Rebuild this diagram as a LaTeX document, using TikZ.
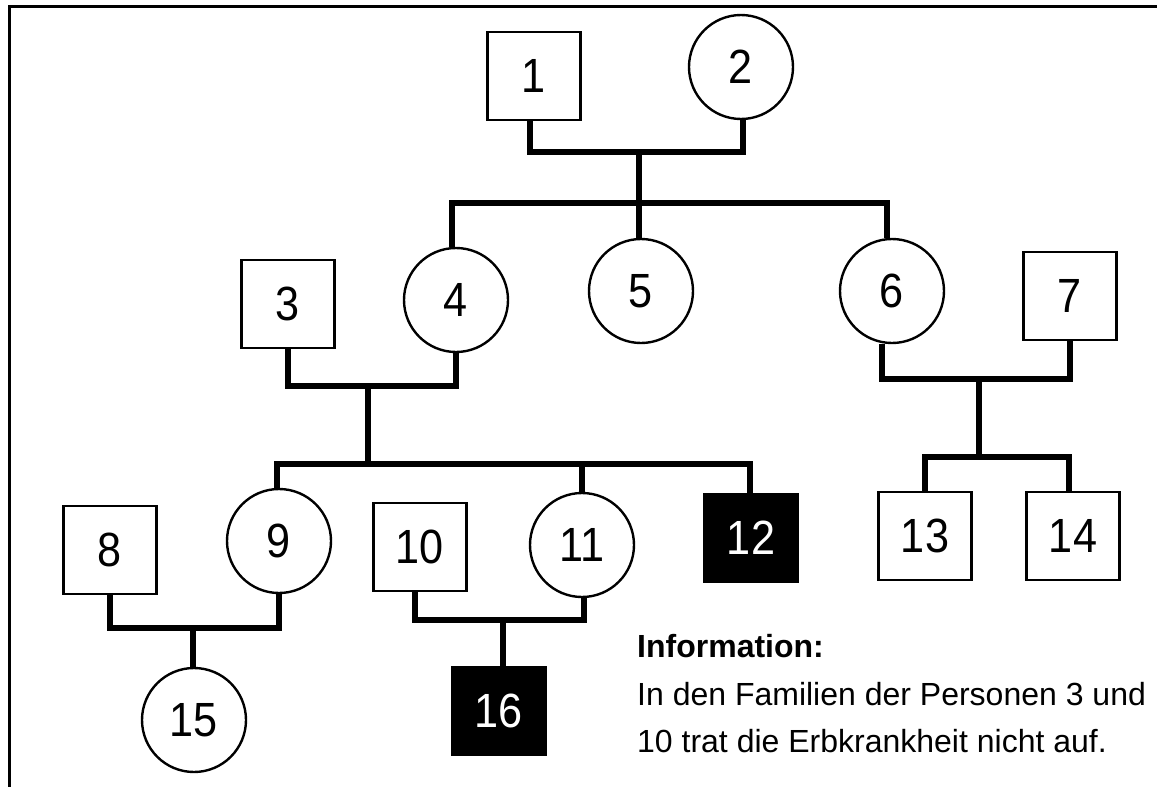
\documentclass[tikz,border=0pt]{standalone}
\usepackage{fontspec}
\setmainfont{Liberation Sans}
\newfontfamily\digitfont[FakeStretch=0.9]{Liberation Sans}
\begin{document}
\begin{tikzpicture}[x=1pt,y=-1pt,
  male/.style={draw, line width=2.4pt, rectangle, minimum width=93pt, minimum height=88pt, inner sep=0pt, fill=white,
    font=\digitfont\fontsize{48}{50}\selectfont},
  female/.style={draw, line width=2.4pt, circle, minimum size=104pt, inner sep=0pt, fill=white,
    font=\digitfont\fontsize{48}{50}\selectfont},
  affected/.style={male, fill=black, text=white},
  rel/.style={line width=6pt, line join=miter},
  info/.style={anchor=base west, inner sep=0pt, font=\fontsize{32}{38}\selectfont},
  frame/.style={line width=3pt}]
\useasboundingbox (0,0) rectangle (1157,787);
\fill[white] (0,0) rectangle (1157,787);
\draw[frame] (1157,6) -- (9,6) -- (9,787);

% coordinates where lines meet
\coordinate (m12) at (639,152);
\coordinate (s2) at (639,203);
\coordinate (m34) at (368,386);
\coordinate (s3) at (368,464);
\coordinate (m67) at (979,379);
\coordinate (s67) at (979,457);
\coordinate (m89) at (193,628);
\coordinate (m1011) at (503,620);

% generation I
\node[male]   (n1) at (534,76) {1};
\node[female] (n2) at (741,67) {2};
% generation II
\node[male]   (n3) at (288,304) {3};
\node[female] (n4) at (456,300) {4};
\node[female] (n5) at (641,291) {5};
\node[female] (n6) at (892,291) {6};
\node[male]   (n7) at (1070,296) {7};
% generation III
\node[male]     (n8)  at (110,550) {8};
\node[female]   (n9)  at (279,541) {9};
\node[male]     (n10) at (420,547) {10};
\node[female]   (n11) at (582,545) {11};
\node[affected] (n12) at (751,538) {12};
\node[male]     (n13) at (925,536) {13};
\node[male]     (n14) at (1073,536) {14};
% generation IV
\node[female]   (n15) at (194,720) {15};
\node[affected] (n16) at (499,711) {16};

% connectors
\draw[rel] ([xshift=-4pt]n1.south) |- (m12) -| ([xshift=2pt]n2.south);
\draw[rel] (m12) -- (m12 |- n5.north);
\draw[rel] ([xshift=-4pt]n4.north) |- (s2) -| ([xshift=-5pt]n6.north);

\draw[rel] (n3.south) |- (m34) -| (n4.south);
\draw[rel] (m34) -- (s3);
\draw[rel] ([xshift=-2pt]n9.north) |- (s3) -| ([xshift=-1pt]n12.north);
\draw[rel] (s3 -| n11.north) -- (n11.north);

\draw[rel] ([xshift=-10pt]n6.south) |- (m67) -| (n7.south);
\draw[rel] (m67) -- (s67);
\draw[rel] (n13.north) |- (s67) -| ([xshift=-4pt]n14.north);

\draw[rel] (n8.south) |- (m89) -| (n9.south);
\draw[rel] (m89) -- (m89 |- n15.north);

\draw[rel] ([xshift=-5pt]n10.south) |- (m1011) -| ([xshift=2pt]n11.south);
\draw[rel] (m1011) -- (m1011 |- n16.north);

% information text
\node[info, font=\fontsize{32}{38}\selectfont\bfseries] (i1) at (637,657) {Information:};
\node[info] (i2) at (637,705) {In den Familien der Personen 3 und};
\node[info] (i3) at (637,752) {10 trat die Erbkrankheit nicht auf.};
\end{tikzpicture}
\end{document}
